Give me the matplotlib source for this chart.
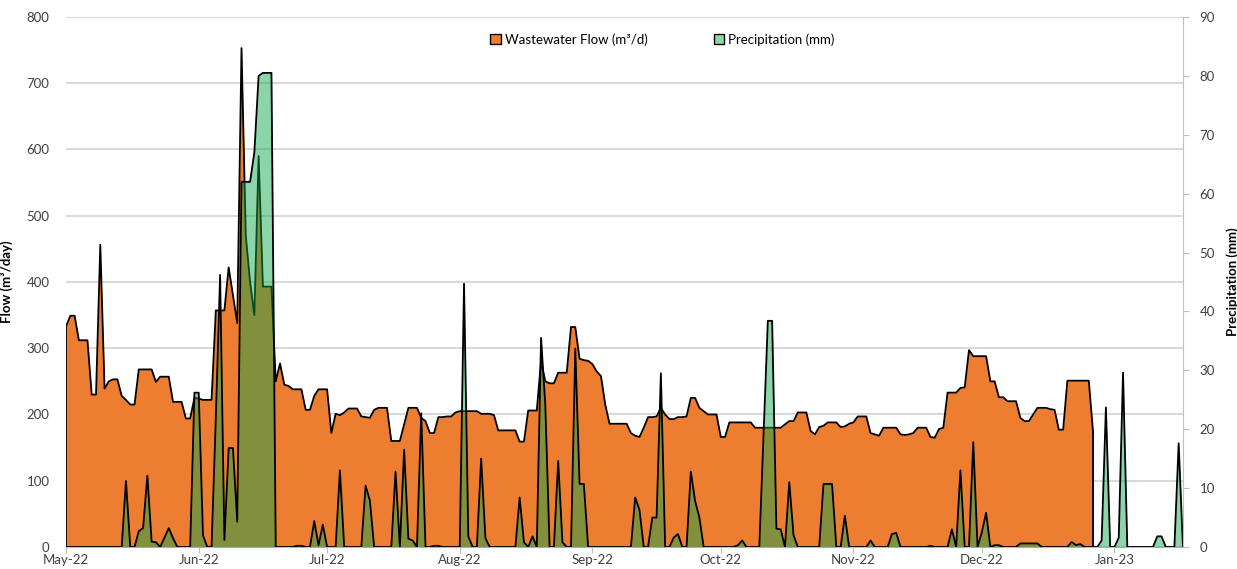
import numpy as np
import pandas as pd
import matplotlib
matplotlib.use("Agg")
import matplotlib.pyplot as plt
import matplotlib.dates as mdates
from matplotlib.patches import Patch

plt.rcParams['font.family'] = ['Lato', 'DejaVu Sans']

# daily values from 1 May 2022
flow = [333, 349, 349, 312, 312, 312, 230, 230, 456, 239,
        250, 253, 253, 228, 222, 215, 215, 268, 268, 268,
        268, 249, 257, 257, 257, 219, 219, 219, 194, 194,
        225, 224, 222, 222, 222, 357, 357, 357, 422, 380,
        338, 753, 470, 400, 350, 590, 393, 393, 393, 250,
        277, 245, 243, 238, 238, 238, 207, 207, 228, 238,
        238, 238, 172, 201, 199, 203, 209, 209, 209, 197,
        196, 195, 207, 210, 210, 210, 160, 160, 160, 185,
        210, 210, 210, 195, 190, 172, 172, 196, 196, 197,
        197, 203, 205, 205, 205, 205, 205, 201, 201, 201,
        199, 176, 176, 176, 176, 176, 159, 159, 206, 206,
        206, 280, 250, 247, 247, 263, 263, 263, 332, 332,
        284, 282, 281, 276, 265, 258, 215, 186, 186, 186,
        186, 186, 172, 168, 166, 180, 196, 196, 197, 210,
        200, 193, 193, 196, 196, 197, 225, 225, 210, 205,
        200, 200, 200, 166, 166, 188, 188, 188, 188, 188,
        188, 180, 180, 180, 180, 180, 180, 180, 185, 190,
        190, 203, 203, 203, 175, 170, 181, 183, 188, 188,
        188, 181, 182, 186, 188, 197, 197, 197, 172, 170,
        168, 180, 180, 180, 180, 170, 169, 170, 172, 180,
        180, 180, 166, 165, 178, 180, 233, 233, 233, 240,
        241, 297, 288, 288, 288, 288, 250, 250, 226, 226,
        220, 220, 220, 195, 190, 190, 200, 210, 210, 210,
        208, 207, 177, 177, 251, 251, 251, 251, 251, 251,
        173]

precip = [0, 0, 0, 0, 0, 0, 0, 0, 0, 0,
          0, 0, 0, 0, 11.2, 0, 0, 2.7, 3.2, 12.1,
          0.9, 0.8, 0, 1.6, 3.2, 1.5, 0, 0, 0, 0,
          26.2, 26.2, 2, 0, 0, 22, 46.2, 1.2, 16.8, 16.8,
          4.3, 62, 62, 62, 67, 80, 80.5, 80.5, 80.5, 0,
          0, 0, 0, 0, 0.2, 0.2, 0, 0, 4.4, 0.3,
          3.8, 0, 0, 0, 13, 0, 0, 0, 0, 0,
          10.4, 7.9, 0, 0, 0, 0, 0, 12.8, 0, 16.5,
          1.4, 1.1, 0, 22.7, 0, 0, 0.2, 0.2, 0, 0,
          0, 0, 0, 44.7, 1.8, 0, 0, 15, 1.5, 0,
          0, 0, 0, 0, 0, 0, 8.4, 0.8, 0, 1.8,
          0, 35.5, 24, 0, 0, 14.6, 0.8, 0, 0, 33.7,
          10.7, 10.7, 0, 0, 0, 0, 0, 0, 0, 0,
          0, 0, 0, 8.4, 6.3, 0, 0, 5, 5, 29.5,
          0, 0, 1.6, 2.2, 0, 0, 12.8, 7.8, 5, 0,
          0, 0, 0, 0, 0, 0, 0, 0.3, 1.1, 0,
          0, 0, 0, 19, 38.4, 38.4, 3.1, 3, 0, 11,
          2, 0, 0, 0, 0, 0, 0, 10.7, 10.7, 10.7,
          0, 0, 5.3, 0, 0, 0, 0, 0, 1.1, 0,
          0, 0, 0, 2.2, 2.4, 0, 0, 0, 0, 0,
          0, 0, 0.2, 0, 0, 0, 0, 3, 0, 13,
          0, 0, 17.8, 0, 2.5, 5.8, 0, 0.3, 0.3, 0,
          0, 0, 0, 0.6, 0.6, 0.6, 0.6, 0.6, 0, 0,
          0, 0, 0, 0, 0, 0.85, 0.3, 0.5, 0, 0,
          0, 0, 1.1, 23.7, 0, 0, 1.6, 29.6, 0, 0,
          0, 0, 0, 0, 0, 1.8, 1.8, 0, 0, 0,
          17.6, 0]

dates = pd.date_range('2022-05-01', periods=len(precip))
fdates = dates[:len(flow)]

orange = '#ED7D31'
green = '#0BA449'
grey = '#D9D9D9'
txt = '#404040'

fig = plt.figure(figsize=(12.37, 5.69), dpi=100)
ax = fig.add_axes([0.0534, 0.0387, 0.9029, 0.9315])
ax2 = ax.twinx()

# flow area
ax.fill_between(fdates, flow, 0, color=orange, lw=0, zorder=2)
ax.plot(fdates, flow, color='black', lw=1.3, zorder=3)
ax.plot([fdates[0], fdates[0]], [0, flow[0]], color='black', lw=1.3, zorder=3)
ax.plot([fdates[-1], fdates[-1]], [0, flow[-1]], color='black', lw=1.3, zorder=3)

# precipitation area, semi-transparent over the flow
ax2.fill_between(dates, precip, 0, color=green, alpha=0.47, lw=0)
ax2.plot(dates, precip, color='black', lw=1.3)

ax.set_ylim(0, 800)
ax.set_yticks(np.arange(0, 801, 100))
ax2.set_ylim(0, 90)
ax2.set_yticks(np.arange(0, 91, 10))
ax.set_xlim(dates[0], dates[-1])

ax.set_axisbelow(True)
ax.yaxis.grid(True, color=grey, lw=1.5, zorder=0)
ax.xaxis.grid(False)

ax.xaxis.set_major_locator(mdates.MonthLocator())
ax.xaxis.set_major_formatter(mdates.DateFormatter('%b-%y'))

for s in ['top', 'left']:
    ax.spines[s].set_visible(False)
    ax2.spines[s].set_visible(False)
ax.spines['right'].set_visible(False)
ax.spines['bottom'].set_color('#BFBFBF')
ax2.spines['bottom'].set_visible(False)
ax2.spines['right'].set_color('#BFBFBF')

ax.tick_params(axis='y', length=0, labelsize=9.5, colors=txt, pad=12)
ax.tick_params(axis='x', length=4, color='#BFBFBF', labelsize=9.5,
               labelcolor=txt, pad=1)
ax2.tick_params(axis='y', length=4, color='#BFBFBF', labelsize=9.5,
                labelcolor=txt, pad=8)

ax.set_ylabel('Flow (m³/day)', fontsize=9.5, fontweight='bold', color='black', labelpad=10)
ax2.set_ylabel('Precipitation (mm)', fontsize=9.5, fontweight='bold', color='black', labelpad=8)

handles = [Patch(facecolor=orange, edgecolor='black', lw=1),
           Patch(facecolor='#8CD6AC', edgecolor='black', lw=1)]
ax2.legend(handles, ['Wastewater Flow (m³/d)', 'Precipitation (mm)'],
           loc='center', bbox_to_anchor=(0.534, 0.957), ncol=2, frameon=False,
           fontsize=9.5, handlelength=0.8, handleheight=0.8, handletextpad=0.3,
           columnspacing=5)

fig.savefig('out.png', dpi=100)
